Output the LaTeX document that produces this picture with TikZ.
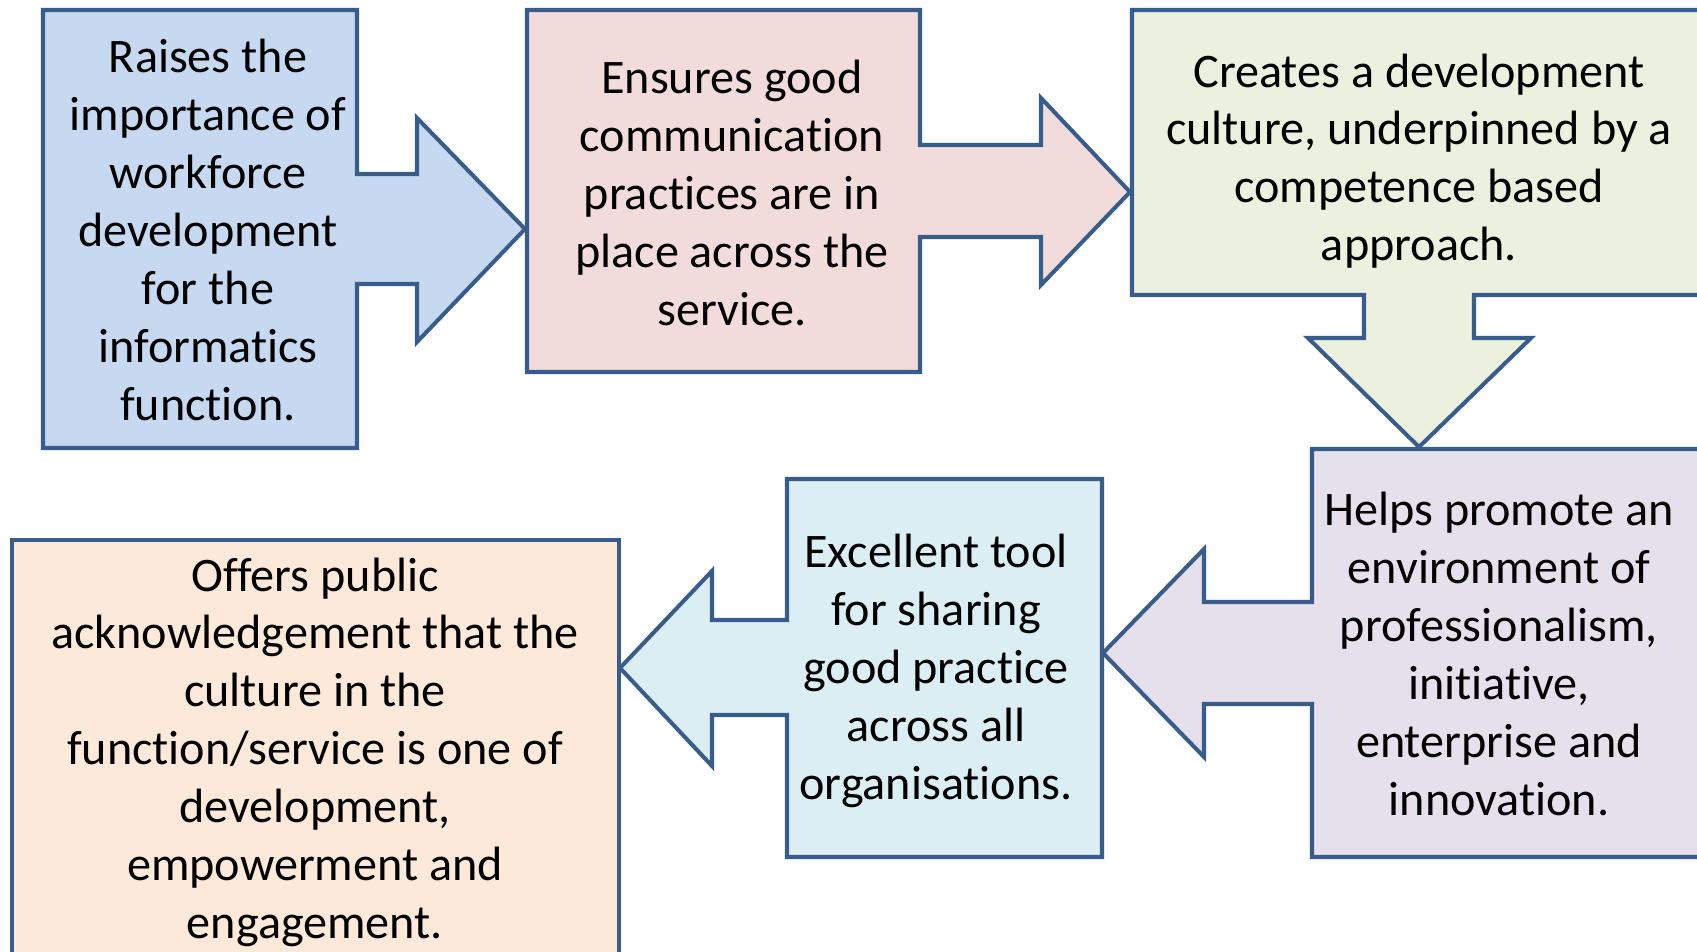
\documentclass[tikz,border=0pt]{standalone}
\usepackage{fontspec}
\setmainfont{Carlito}[Ligatures=NoCommon]
\definecolor{edge}{HTML}{385D8A}
\definecolor{raiseFill}{HTML}{C6D9F1}
\definecolor{ensureFill}{HTML}{F2DCDB}
\definecolor{createFill}{HTML}{EBF1DE}
\definecolor{helpFill}{HTML}{E5E0EC}
\definecolor{toolFill}{HTML}{DBEEF4}
\definecolor{offerFill}{HTML}{FDE9D9}

\begin{document}
\begin{tikzpicture}[x=0.01cm, y=-0.01cm,
                    callout/.style = {draw=edge, line width=1.15pt, line join=miter},
                    txt/.style = {align=center, inner sep=0pt,
                                  font=\fontsize{13.7}{16.45}\selectfont}]
\useasboundingbox (0,0) rectangle (1697,952);
\clip (0,0) rectangle (1697,952);

% top row, pointing right
\draw[callout, fill=raiseFill] (43,10) -- (357,10) -- (357,174) -- (417,174) -- (417,118)
    -- (525,229) -- (417,342) -- (417,284) -- (357,284) -- (357,448) -- (43,448) -- cycle;
\draw[callout, fill=ensureFill] (527,10) -- (920,10) -- (920,145) -- (1041,145) -- (1041,98)
    -- (1130,192) -- (1041,285) -- (1041,237) -- (920,237) -- (920,372) -- (527,372) -- cycle;
% pointing down
\draw[callout, fill=createFill] (1132,10) -- (1720,10) -- (1720,295) -- (1474,295) -- (1474,338)
    -- (1531,338) -- (1419,447) -- (1308,338) -- (1364,338) -- (1364,295) -- (1132,295) -- cycle;
% bottom row, pointing left
\draw[callout, fill=helpFill] (1312,449) -- (1720,449) -- (1720,857) -- (1312,857) -- (1312,704)
    -- (1204,704) -- (1204,757) -- (1103,653) -- (1204,549) -- (1204,602) -- (1312,602) -- cycle;
\draw[callout, fill=toolFill] (787,479) -- (1102,479) -- (1102,857) -- (787,857) -- (787,715)
    -- (712,715) -- (712,766) -- (620,668) -- (712,571) -- (712,620) -- (787,620) -- cycle;
\draw[callout, fill=offerFill] (12,540) -- (619,540) -- (619,990) -- (12,990) -- cycle;

\node[txt] (raise) at (208,230) {Raises the\\importance of\\workforce\\development\\for the\\informatics\\function.};
\node[txt] (ensure) at (732,193) {Ensures good\\communication\\practices are in\\place across the\\service.};
\node[txt] (create) at (1419,161) {Creates a development\\culture, underpinned by a\\competence based\\approach.};
\node[txt] (help) at (1499,654) {Helps promote an\\environment of\\professionalism,\\initiative,\\enterprise and\\innovation.};
\node[txt] (tool) at (936,671) {Excellent tool\\for sharing\\good practice\\across all\\organisations.};
\node[txt] (offer) at (315,752) {Offers public\\acknowledgement that the\\culture in the\\function/service is one of\\development,\\empowerment and\\engagement.};
\end{tikzpicture}
\end{document}
